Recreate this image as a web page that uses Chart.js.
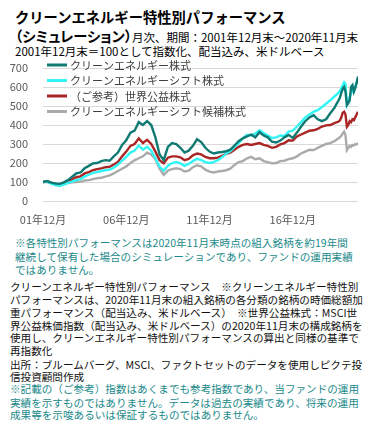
<!DOCTYPE html>
<html>
<head>
<meta charset="utf-8">
<script src="https://cdn.jsdelivr.net/npm/chart.js@4"></script>
<style>
  body { margin: 0; background: #fff; font-family: "Noto Sans CJK JP", sans-serif; }
  #wrap { position: relative; width: 384px; height: 432px; overflow: hidden; }
  .ln { position: absolute; white-space: nowrap; line-height: 14px; height: 14px; }
  .t1 { font-size: 14.3px; font-weight: bold; color: #000; }
  .t2 { font-size: 11.5px; color: #000; }
  .note { font-size: 10.6px; color: #1b8a8a; }
  .blk { font-size: 10.6px; color: #111; }
  #box { position: absolute; left: 0; top: 58px; width: 384px; height: 172px; }
</style>
</head>
<body>
<div id="wrap">
  <div class="ln t1" style="left:15px;top:10px;">クリーンエネルギー特性別パフォーマンス</div>
  <div class="ln t2" style="left:15px;top:29px;"><span class="t1" style="font-feature-settings:'palt';">（シミュレーション）</span>月次、期間：2001年12月末～2020年11月末</div>
  <div class="ln t2" style="left:15px;top:44px;">2001年12月末＝100として指数化、配当込み、米ドルベース</div>
  <div id="box"><canvas id="myChart"></canvas></div>
  <div class="ln note" style="left:15px;top:236px;">※各特性別パフォーマンスは2020年11月末時点の組入銘柄を約19年間</div>
  <div class="ln note" style="left:15px;top:250px;">継続して保有した場合のシミュレーションであり、ファンドの運用実績</div>
  <div class="ln note" style="left:15px;top:263px;">ではありません。</div>
  <div class="ln blk" style="left:10px;top:280px;">クリーンエネルギー特性別パフォーマンス　※クリーンエネルギー特性別</div>
  <div class="ln blk" style="left:10px;top:293px;">パフォーマンスは、2020年11月末の組入銘柄の各分類の銘柄の時価総額加</div>
  <div class="ln blk" style="left:10px;top:306px;">重パフォーマンス（配当込み、米ドルベース）　※世界公益株式：MSCI世</div>
  <div class="ln blk" style="left:10px;top:319px;">界公益株価指数（配当込み、米ドルベース）の2020年11月末の構成銘柄を</div>
  <div class="ln blk" style="left:10px;top:331px;">使用し、クリーンエネルギー特性別パフォーマンスの算出と同様の基準で</div>
  <div class="ln blk" style="left:10px;top:344px;">再指数化</div>
  <div class="ln blk" style="left:10px;top:358px;">出所：ブルームバーグ、MSCI、ファクトセットのデータを使用しピクテ投</div>
  <div class="ln blk" style="left:10px;top:370px;">信投資顧問作成</div>
  <div class="ln note" style="left:10px;top:382px;">※記載の（ご参考）指数はあくまでも参考指数であり、当ファンドの運用</div>
  <div class="ln note" style="left:10px;top:396px;">実績を示すものではありません。データは過去の実績であり、将来の運用</div>
  <div class="ln note" style="left:10px;top:408px;">成果等を示唆あるいは保証するものではありません。</div>
</div>
<script>
// months counted from 2001-12 (0) to 2020-11 (227)
const months = [0, 3, 6, 9, 12, 15, 18, 21, 24, 27,
  30, 33, 36, 39, 42, 45, 48, 51, 54, 57,
  60, 63, 66, 69, 72, 75, 78, 81, 84, 87,
  90, 93, 96, 99, 102, 105, 108, 111, 114, 117,
  120, 123, 126, 129, 132, 135, 138, 141, 144, 147,
  150, 153, 156, 159, 162, 165, 168, 171, 174, 177,
  180, 183, 186, 189, 192, 195, 198, 201, 204, 207,
  210, 213,
  214, 215, 216, 217, 218, 219, 220, 221, 222, 223, 224, 225, 226, 227];

const tickMonths = [0, 60, 120, 180];
const tickLabels = ['01年12月', '06年12月', '11年12月', '16年12月'];

const seriesNames = ['クリーンエネルギー株式', 'クリーンエネルギーシフト株式', '（ご参考）世界公益株式', 'クリーンエネルギーシフト候補株式'];

const cleanEnergy = [100, 105, 97, 92, 90, 98, 110, 128, 145, 150,
  172, 185, 198, 200, 210, 215, 212, 235, 255, 295,
  320, 360, 370, 415, 400, 420, 400, 335, 245, 215,
  285, 305, 300, 280, 255, 265, 290, 325, 310, 280,
  260, 250, 255, 258, 262, 270, 292, 315, 330, 340,
  350, 335, 362, 345, 335, 312, 308, 318, 335, 348,
  332, 360, 392, 420, 440, 452, 430, 420, 430, 462,
  490, 530,
  545, 570, 590, 600, 575, 505, 515, 530, 600, 610, 575, 595, 620, 655];

const shift = [100, 102, 92, 84, 80, 86, 95, 102, 110, 115,
  128, 138, 148, 152, 158, 162, 165, 175, 192, 212,
  232, 255, 265, 292, 270, 285, 265, 225, 180, 160,
  185, 200, 205, 198, 185, 195, 210, 222, 215, 205,
  200, 205, 215, 230, 250, 262, 285, 305, 330, 348,
  345, 355, 372, 358, 345, 332, 335, 345, 342, 365,
  370, 392, 415, 440, 455, 470, 478, 495, 512, 530,
  550, 570,
  580, 595, 610, 625, 615, 505, 520, 545, 570, 580, 575, 600, 625, 640];

const utilities = [100, 103, 95, 90, 88, 95, 105, 115, 125, 130,
  145, 152, 162, 168, 172, 178, 180, 192, 205, 235,
  260, 290, 300, 330, 305, 322, 300, 260, 215, 198,
  228, 235, 235, 230, 215, 222, 240, 250, 245, 232,
  225, 225, 228, 238, 248, 255, 270, 285, 295, 300,
  295, 300, 305, 295, 290, 280, 285, 298, 305, 320,
  318, 340, 350, 360, 370, 372, 380, 392, 398, 400,
  410, 418,
  425, 440, 465, 470, 455, 390, 400, 420, 415, 430, 425, 440, 455, 470];

const candidates = [100, 100, 93, 85, 82, 88, 95, 98, 100, 102,
  108, 110, 115, 120, 122, 128, 135, 145, 158, 170,
  182, 200, 214, 225, 235, 255, 245, 220, 170, 138,
  160, 168, 172, 168, 155, 160, 178, 188, 182, 165,
  155, 150, 155, 158, 162, 170, 190, 205, 210, 225,
  232, 220, 225, 210, 205, 198, 200, 210, 212, 220,
  225, 235, 250, 260, 270, 268, 280, 290, 300, 305,
  315, 330,
  335, 345, 355, 365, 345, 268, 280, 290, 285, 295, 292, 300, 298, 305];

const colors = ['#0f7a73', '#33f5f5', '#aa2626', '#aaaaaa'];

const toPoints = (arr) => months.map((m, i) => ({ x: m, y: arr[i] }));

const insideLegend = {
  id: 'insideLegend',
  afterDatasetsDraw(chart) {
    const ctx = chart.ctx;
    const left = chart.chartArea.left + 4;
    const rows = [7, 22.5, 38, 53.5];
    ctx.save();
    ctx.font = '11px "Noto Sans CJK JP"';
    ctx.textBaseline = 'middle';
    chart.data.datasets.forEach((ds, i) => {
      ctx.strokeStyle = ds.borderColor;
      ctx.lineWidth = 3;
      ctx.beginPath();
      ctx.moveTo(left, rows[i]);
      ctx.lineTo(left + 20, rows[i]);
      ctx.stroke();
      ctx.fillStyle = '#404040';
      ctx.fillText(ds.label, left + 23, rows[i] + 0.5);
    });
    ctx.restore();
  }
};

const data = {
  datasets: [
    { label: seriesNames[0], data: toPoints(cleanEnergy), borderColor: colors[0] },
    { label: seriesNames[1], data: toPoints(shift), borderColor: colors[1] },
    { label: seriesNames[2], data: toPoints(utilities), borderColor: colors[2] },
    { label: seriesNames[3], data: toPoints(candidates), borderColor: colors[3] },
  ],
};

const config = {
  type: 'line',
  data: data,
  options: {
    responsive: true,
    maintainAspectRatio: false,
    animation: false,
    layout: { padding: { top: 10, right: 26, left: 0, bottom: 0 } },
    elements: {
      point: { radius: 0 },
      line: { borderWidth: 2.4, tension: 0 },
    },
    plugins: {
      legend: { display: false },
      tooltip: { enabled: false },
    },
    scales: {
      x: {
        type: 'linear',
        min: 0,
        max: 227,
        grid: { display: false, drawTicks: false },
        border: { display: false },
        afterBuildTicks: (scale) => { scale.ticks = tickMonths.map((v) => ({ value: v })); },
        afterFit: (scale) => { scale.height = 29; scale.paddingLeft = 0; scale.paddingRight = 0; },
        ticks: {
          padding: 12,
          maxRotation: 0,
          autoSkip: false,
          color: '#595959',
          font: { family: '"Noto Sans CJK JP"', size: 11 },
          callback: (v) => tickLabels[tickMonths.indexOf(v)],
        },
      },
      y: {
        min: 0,
        max: 700,
        grid: { color: '#d9d9d9', drawTicks: false },
        border: { display: false },
        afterFit: (scale) => { scale.width = 43; scale.paddingTop = 0; scale.paddingBottom = 0; },
        ticks: {
          stepSize: 100,
          padding: 15,
          color: '#595959',
          font: { family: '"Noto Sans CJK JP"', size: 11 },
        },
      },
    },
  },
  plugins: [insideLegend],
};

const myChart = new Chart(document.getElementById('myChart'), config);
</script>
</body>
</html>
